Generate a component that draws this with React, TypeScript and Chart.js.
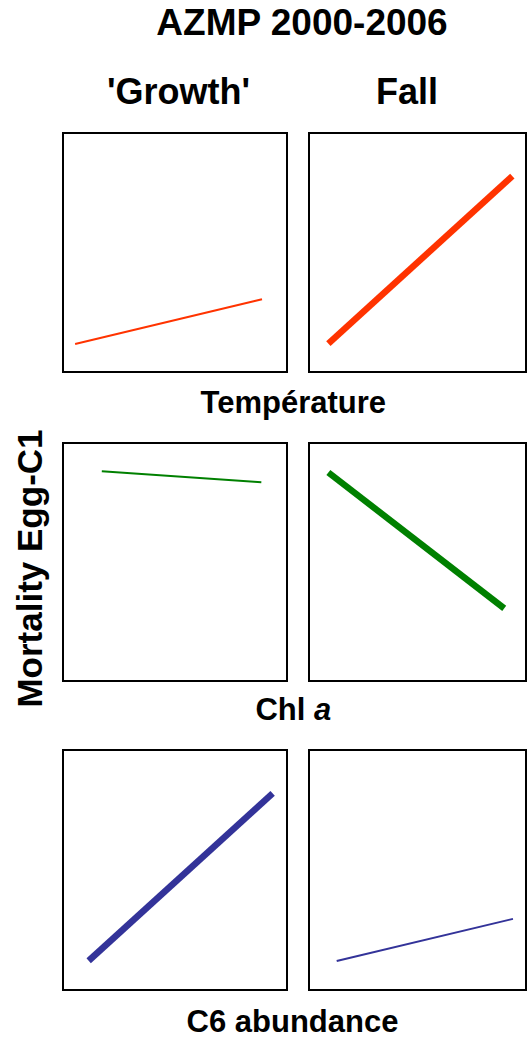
import React, { useEffect, useRef } from "react";
import { Chart, registerables } from "chart.js";

Chart.register(...registerables);

// Titles and labels
const mainTitle = "AZMP 2000-2006";
const seasons = ["'Growth'", "Fall"];
const yAxisTitle = "Mortality Egg-C1";

// Fitted trend lines (relative units, 0–1 on both axes), one per panel
const tempGrowthX = [0.058, 0.885];
const tempGrowthY = [0.12, 0.306];
const tempFallX = [0.093, 0.933];
const tempFallY = [0.122, 0.817];

const chlGrowthX = [0.176, 0.882];
const chlGrowthY = [0.878, 0.832];
const chlFallX = [0.093, 0.896];
const chlFallY = [0.873, 0.307];

const c6GrowthX = [0.118, 0.932];
const c6GrowthY = [0.125, 0.817];
const c6FallX = [0.131, 0.936];
const c6FallY = [0.124, 0.298];

const FONT = '"Liberation Sans", Arial, Helvetica, sans-serif';

type PanelSpec = {
  xs: number[];
  ys: number[];
  color: string;
  width: number;
  left: number;
  top: number;
  w: number;
  h: number;
};

const colLeft = [62, 308];
const colWidth = [226, 219];
const rowTop = [132, 442, 749];
const rowHeight = [241, 240, 242];

const THIN = 2;
const THICK = 6.5;

const panels: PanelSpec[] = [
  { xs: tempGrowthX, ys: tempGrowthY, color: "#FF3300", width: THIN, left: colLeft[0], top: rowTop[0], w: colWidth[0], h: rowHeight[0] },
  { xs: tempFallX, ys: tempFallY, color: "#FF3300", width: THICK, left: colLeft[1], top: rowTop[0], w: colWidth[1], h: rowHeight[0] },
  { xs: chlGrowthX, ys: chlGrowthY, color: "#008000", width: THIN, left: colLeft[0], top: rowTop[1], w: colWidth[0], h: rowHeight[1] },
  { xs: chlFallX, ys: chlFallY, color: "#008000", width: THICK, left: colLeft[1], top: rowTop[1], w: colWidth[1], h: rowHeight[1] },
  { xs: c6GrowthX, ys: c6GrowthY, color: "#333399", width: THICK, left: colLeft[0], top: rowTop[2], w: colWidth[0], h: rowHeight[2] },
  { xs: c6FallX, ys: c6FallY, color: "#333399", width: THIN, left: colLeft[1], top: rowTop[2], w: colWidth[1], h: rowHeight[2] },
];

// Frame around each panel
const framePlugin = {
  id: "panelFrame",
  afterDraw(chart: Chart) {
    const { ctx, width, height } = chart;
    ctx.save();
    ctx.strokeStyle = "#000";
    ctx.lineWidth = 2;
    ctx.strokeRect(1, 1, width - 2, height - 2);
    ctx.restore();
  },
};

function Panel({ spec }: { spec: PanelSpec }) {
  const ref = useRef<HTMLCanvasElement | null>(null);
  useEffect(() => {
    if (!ref.current) return;
    const chart = new Chart(ref.current, {
      type: "scatter",
      data: {
        datasets: [
          {
            data: spec.xs.map((x, i) => ({ x, y: spec.ys[i] })),
            showLine: true,
            borderColor: spec.color,
            backgroundColor: spec.color,
            borderWidth: spec.width,
            borderCapStyle: "butt",
            pointRadius: 0,
            pointHoverRadius: 0,
          },
        ],
      },
      options: {
        responsive: false,
        animation: false,
        devicePixelRatio: 1,
        layout: { padding: 0 },
        plugins: { legend: { display: false }, tooltip: { enabled: false } },
        scales: {
          x: { type: "linear", min: 0, max: 1, display: false },
          y: { type: "linear", min: 0, max: 1, display: false },
        },
      },
      plugins: [framePlugin],
    });
    return () => chart.destroy();
  }, [spec]);
  return (
    <canvas
      ref={ref}
      width={spec.w}
      height={spec.h}
      style={{ position: "absolute", left: spec.left, top: spec.top, width: spec.w, height: spec.h }}
    />
  );
}

function Label({
  text,
  cx,
  baseline,
  size,
  children,
}: {
  text?: string;
  cx: number;
  baseline: number;
  size: number;
  children?: React.ReactNode;
}) {
  const w = 400;
  return (
    <div
      style={{
        position: "absolute",
        left: cx - w / 2,
        top: baseline - 0.8465 * size,
        width: w,
        textAlign: "center",
        fontFamily: FONT,
        fontWeight: "bold",
        fontSize: size,
        lineHeight: `${size}px`,
        whiteSpace: "nowrap",
        color: "#000",
      }}
    >
      {children ?? text}
    </div>
  );
}

export default function App() {
  const yFont = 35;
  const yCenterX = 28.9;
  const yCenterY = 568;
  const yBoxW = 320;
  return (
    <div style={{ position: "absolute", left: 0, top: 0, width: 529, height: 1045, background: "#fff", overflow: "hidden" }}>
      <Label text={mainTitle} cx={302} baseline={35.3} size={37} />
      <Label text={seasons[0]} cx={178.5} baseline={104} size={36} />
      <Label text={seasons[1]} cx={407} baseline={104} size={36} />

      {panels.map((p, i) => (
        <Panel key={i} spec={p} />
      ))}

      <Label text="Température" cx={293.3} baseline={413.3} size={31} />
      <Label cx={293.3} baseline={720} size={31}>
        Chl <i>a</i>
      </Label>
      <Label text="C6 abundance" cx={292.5} baseline={1032.3} size={31} />

      <div
        style={{
          position: "absolute",
          left: yCenterX - yBoxW / 2,
          top: yCenterY - yFont / 2,
          width: yBoxW,
          height: yFont,
          textAlign: "center",
          fontFamily: FONT,
          fontWeight: "bold",
          fontSize: yFont,
          lineHeight: `${yFont}px`,
          whiteSpace: "nowrap",
          transform: "rotate(-90deg)",
          transformOrigin: "50% 50%",
        }}
      >
        {yAxisTitle}
      </div>
    </div>
  );
}
